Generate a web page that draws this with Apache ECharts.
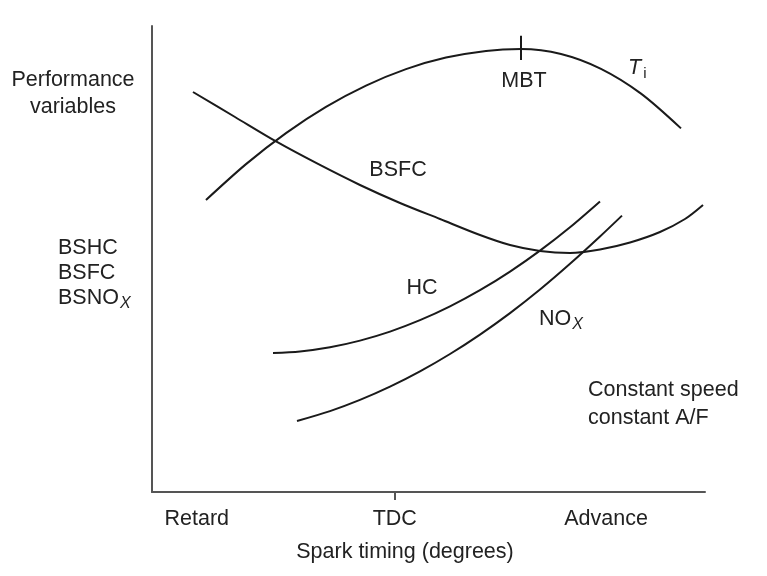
<!DOCTYPE html>
<html><head><meta charset="utf-8">
<script src="https://cdn.jsdelivr.net/npm/echarts@6/dist/echarts.min.js"></script>
<style>html,body{margin:0;padding:0;background:#fff}#c{width:767px;height:576px}</style>
</head><body><div id="c"></div>
<script>
// Spark timing (arbitrary scale 0-100) and performance variables (arbitrary scale 0-100)
const tickLabels = ['Retard', 'TDC', 'Advance'];
const tickPositions = [8.1, 43.9, 82.1];
const tdcPosition = 43.9;
const mbtPosition = 66.7;
const mbtTickRange = [92.7, 97.9];

const tiX = [9.76, 17.00, 24.23, 31.46, 38.70, 45.93, 53.16, 60.40, 66.73, 73.96, 81.19, 88.43, 95.66];
const tiY = [62.66, 70.36, 77.02, 82.64, 87.21, 90.75, 93.22, 94.66, 95.06, 94.00, 90.81, 85.49, 78.03];

const bsfcX = [7.41, 15.01, 22.60, 30.02, 37.61, 44.85, 52.08, 59.31, 64.74, 70.16, 75.59, 81.01, 86.44, 91.86, 96.38, 99.64];
const bsfcY = [85.84, 80.47, 75.11, 70.39, 65.88, 62.02, 58.58, 55.15, 53.00, 51.72, 51.29, 52.04, 53.54, 55.79, 58.58, 61.59];

const hcX = [21.88, 26.76, 32.19, 37.61, 43.04, 48.46, 53.89, 59.31, 64.74, 70.16, 75.59, 81.01];
const hcY = [29.83, 30.17, 31.07, 32.49, 34.42, 36.87, 39.83, 43.30, 47.30, 51.80, 56.82, 62.36];

const noxX = [26.22, 32.19, 37.61, 43.04, 48.46, 53.89, 59.31, 64.74, 70.16, 75.59, 81.01, 84.99];
const noxY = [15.24, 17.36, 19.76, 22.60, 25.88, 29.61, 33.78, 38.39, 43.45, 48.97, 54.83, 59.31];

const zip = (xs, ys) => xs.map((x, i) => [x, ys[i]]);
const FONT = 'Liberation Sans, Arial, sans-serif';
const TXT = '#222';
const FS = 21.5;

const lineSeries = (name, xs, ys, extra) => Object.assign({
  name, type: 'line', data: zip(xs, ys), smooth: 0.3, showSymbol: false,
  lineStyle: { color: '#1a1a1a', width: 2 }, silent: true, animation: false
}, extra || {});

const chart = echarts.init(document.getElementById('c'));
chart.setOption({
  animation: false,
  grid: { left: 152, right: 62, top: 26, bottom: 84 },
  xAxis: {
    type: 'value', min: 0, max: 100,
    splitLine: { show: false },
    axisLine: { show: true, lineStyle: { color: '#555', width: 2 } },
    axisTick: { show: true, customValues: [tdcPosition], length: 8, lineStyle: { color: '#555', width: 2 } },
    axisLabel: {
      show: true, customValues: tickPositions, margin: 16,
      formatter: v => tickLabels[tickPositions.indexOf(v)] || '',
      color: TXT, fontSize: FS, fontFamily: FONT
    }
  },
  yAxis: {
    type: 'value', min: 0, max: 100,
    splitLine: { show: false },
    axisLine: { show: true, lineStyle: { color: '#555', width: 2 } },
    axisTick: { show: false }, axisLabel: { show: false }
  },
  series: [
    lineSeries('Ti', tiX, tiY, {
      markLine: {
        silent: true, symbol: ['none', 'none'], label: { show: false },
        lineStyle: { color: '#1a1a1a', width: 2, type: 'solid' },
        data: [[{ coord: [mbtPosition, mbtTickRange[0]] }, { coord: [mbtPosition, mbtTickRange[1]] }]]
      }
    }),
    lineSeries('BSFC', bsfcX, bsfcY),
    lineSeries('HC', hcX, hcY),
    lineSeries('NOx', noxX, noxY)
  ],
  graphic: [
    { type: 'text', x: 73, y: 94, style: { text: 'Performance\nvariables', fill: TXT, font: `${FS}px ${FONT}`, align: 'center', verticalAlign: 'middle', lineHeight: 27 } },
    { type: 'text', x: 58, y: 273, style: {
        text: 'BSHC\nBSFC\n{n|BSNO}{s|X}', fill: TXT, font: `${FS}px ${FONT}`, align: 'left', verticalAlign: 'middle', lineHeight: 25,
        rich: { n: { fontSize: FS, fontFamily: FONT, fill: TXT, lineHeight: 25 }, s: { fontSize: 16, fontStyle: 'italic', fontFamily: FONT, fill: TXT, padding: [12, 0, 0, 1] } } } },
    { type: 'text', x: 524, y: 81, style: { text: 'MBT', fill: TXT, font: `${FS}px ${FONT}`, align: 'center', verticalAlign: 'middle' } },
    { type: 'text', x: 628, y: 68, style: {
        text: '{t|T}{s|i}', align: 'left', verticalAlign: 'middle',
        rich: { t: { fontSize: FS, fontStyle: 'italic', fontFamily: FONT, fill: TXT }, s: { fontSize: 15, fontFamily: FONT, fill: TXT, padding: [12, 0, 0, 2] } } } },
    { type: 'text', x: 398, y: 170, style: { text: 'BSFC', fill: TXT, font: `${FS}px ${FONT}`, align: 'center', verticalAlign: 'middle' } },
    { type: 'text', x: 422, y: 288, style: { text: 'HC', fill: TXT, font: `${FS}px ${FONT}`, align: 'center', verticalAlign: 'middle' } },
    { type: 'text', x: 539, y: 319, style: {
        text: '{n|NO}{s|X}', align: 'left', verticalAlign: 'middle',
        rich: { n: { fontSize: FS, fontFamily: FONT, fill: TXT }, s: { fontSize: 16, fontStyle: 'italic', fontFamily: FONT, fill: TXT, padding: [12, 0, 0, 1] } } } },
    { type: 'text', x: 588, y: 404, style: { text: 'Constant speed\nconstant A/F', fill: TXT, font: `${FS}px ${FONT}`, align: 'left', verticalAlign: 'middle', lineHeight: 28 } },
    { type: 'text', x: 405, y: 552, style: { text: 'Spark timing (degrees)', fill: TXT, font: `${FS}px ${FONT}`, align: 'center', verticalAlign: 'middle' } }
  ]
});
</script></body></html>
